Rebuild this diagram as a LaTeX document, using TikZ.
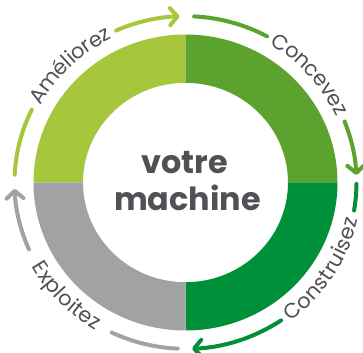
\documentclass[tikz,border=0pt]{standalone}
\usepackage{fontspec}
\setmainfont{Poppins}
\usetikzlibrary{calc,arrows.meta,decorations.text}
\definecolor{cA}{HTML}{A6C63B}
\definecolor{cB}{HTML}{5BA22F}
\definecolor{cC}{HTML}{009039}
\definecolor{cD}{HTML}{A1A2A4}
\definecolor{textgray}{HTML}{4F5155}
\newcommand{\labfont}{\fontsize{21}{21}\selectfont}
\begin{document}
\begin{tikzpicture}[x=1bp,y=1bp,
  cyc/.style={line width=4bp, line cap=round},
  cycarrow/.style={cyc, -{Straight Barb[round,length=7.5bp,width=17bp]}},
  big/.style={x radius=152,y radius=148},
  small/.style={x radius=102.5,y radius=99.7},
  orb/.style={x radius=171,y radius=166.3},
  lbl/.style={decorate, decoration={text along path, text align=center, raise=-5.8bp,
     text={|\labfont\color{textgray}|#1}}}
]
\useasboundingbox (0,0) rectangle (363,353);
\coordinate (C) at (185.5,170.5);
% ring quadrants
\fill[cA] ($(C)+(180:152 and 148)$) arc[start angle=180,end angle=90,big]
  -- ($(C)+(90:102.5 and 99.7)$) arc[start angle=90,end angle=180,small] -- cycle;
\fill[cB] ($(C)+(90:152 and 148)$) arc[start angle=90,end angle=0,big]
  -- ($(C)+(0:102.5 and 99.7)$) arc[start angle=0,end angle=90,small] -- cycle;
\fill[cC] ($(C)+(0:152 and 148)$) arc[start angle=0,end angle=-90,big]
  -- ($(C)+(-90:102.5 and 99.7)$) arc[start angle=-90,end angle=0,small] -- cycle;
\fill[cD] ($(C)+(-90:152 and 148)$) arc[start angle=-90,end angle=-180,big]
  -- ($(C)+(-180:102.5 and 99.7)$) arc[start angle=-180,end angle=-90,small] -- cycle;
% centre text
\node[anchor=base, text=textgray, font=\bfseries\fontsize{32}{32}\selectfont, inner sep=0pt] (votre) at (184.5,180) {votre};
\node[anchor=base, text=textgray, font=\bfseries\fontsize{32}{32}\selectfont, inner sep=0pt] (machine) at (187.5,143) {machine};
% Améliorez
\draw[cyc,cA] ($(C)+(177.3:171 and 166.3)$) arc[start angle=177.3,end angle=154,orb];
\draw[cycarrow,cA] ($(C)+(113.9:171 and 166.3)$) arc[start angle=113.9,end angle=92,orb];
\path[lbl=Améliorez] ($(C)+(174:171 and 166.3)$) arc[start angle=174,end angle=94,orb];
% Concevez
\draw[cyc,cB] ($(C)+(87.1:171 and 166.3)$) arc[start angle=87.1,end angle=61.5,orb];
\draw[cycarrow,cB] ($(C)+(21.5:171 and 166.3)$) arc[start angle=21.5,end angle=2.6,orb];
\path[lbl=Concevez] ($(C)+(81.5:171 and 166.3)$) arc[start angle=81.5,end angle=1.5,orb];
% Construisez
\draw[cyc,cC] ($(C)+(-0.5:171 and 166.3)$) arc[start angle=-0.5,end angle=-9.7,orb];
\draw[cycarrow,cC] ($(C)+(-56:171 and 166.3)$) arc[start angle=-56,end angle=-87.8,orb];
\path[lbl=Construisez] ($(C)+(-72.9:171 and 166.3)$) arc[start angle=-72.9,end angle=7.1,orb];
% Exploitez
\draw[cyc,cD] ($(C)+(-92.6:171 and 166.3)$) arc[start angle=-92.6,end angle=-115.6,orb];
\draw[cycarrow,cD] ($(C)+(-156.3:171 and 166.3)$) arc[start angle=-156.3,end angle=-177.8,orb];
\path[lbl=Exploitez] ($(C)+(-176:171 and 166.3)$) arc[start angle=-176,end angle=-96,orb];
\end{tikzpicture}
\end{document}
